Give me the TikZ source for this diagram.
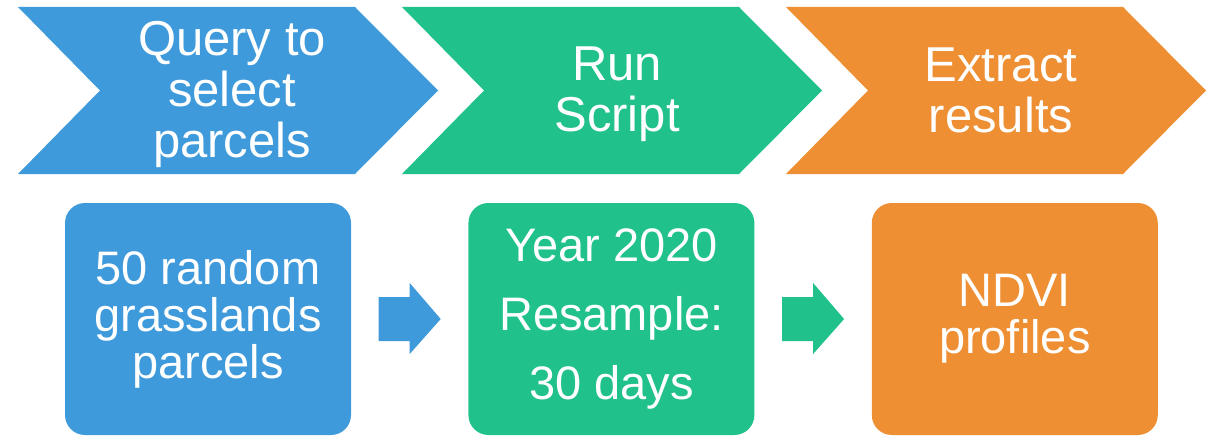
\documentclass[tikz,border=0pt]{standalone}
\usepackage{fontspec}
\setmainfont{Liberation Sans}
\usetikzlibrary{calc,positioning}
\definecolor{stepblue}{RGB}{62,154,219}
\definecolor{stepgreen}{RGB}{32,193,138}
\definecolor{steporange}{RGB}{238,143,51}
\tikzstyle{chevtext}=[text=white,align=center,inner sep=0pt,font=\fontsize{49}{51}\selectfont]
\tikzstyle{stepbox}=[rectangle,rounded corners=20pt,minimum width=286pt,minimum height=232pt,inner sep=0pt,text=white,align=center,font=\fontsize{47}{47}\selectfont]

\begin{document}
\begin{tikzpicture}[x=1pt,y=-1pt]
\useasboundingbox (0,0) rectangle (1210,436);

%chevrons
\fill[stepblue] (18,7) -- (355,7) -- (438,90.5) -- (355,174) -- (18,174) -- (100,90.5) -- cycle;
\fill[stepgreen] (402,7) -- (739,7) -- (822,90.5) -- (739,174) -- (402,174) -- (484,90.5) -- cycle;
\fill[steporange] (786,7) -- (1123,7) -- (1206,90.5) -- (1123,174) -- (786,174) -- (868,90.5) -- cycle;

\node[chevtext] (query) at (232,94){Query to\\select\\parcels};
\node[chevtext] (run) at (617,94){Run\\Script};
\node[chevtext] (extract) at (1001,90){Extract\\results};

%boxes
\node[stepbox,fill=stepblue] (parcels) at (208,319){50 random\\grasslands\\parcels};
\node[stepbox,fill=stepgreen,right=117pt of parcels] (resample){Year 2020\\[22pt]Resample:\\[22pt]30 days};
\node[stepbox,fill=steporange,right=117pt of resample] (ndvi){NDVI\\profiles};

%block arrows
\coordinate (a1) at ($(parcels.east)!0.5!(resample.west)$);
\coordinate (a2) at ($(resample.east)!0.5!(ndvi.west)$);
\fill[stepblue] ($(a1)+(-31,-22)$) -- ++(31,0) -- ++(0,-14) -- ++(31,36) -- ++(-31,35) -- ++(0,-13) -- ++(-31,0) -- cycle;
\fill[stepgreen] ($(a2)+(-31,-22)$) -- ++(31,0) -- ++(0,-14) -- ++(31,36) -- ++(-31,35) -- ++(0,-13) -- ++(-31,0) -- cycle;

\end{tikzpicture}
\end{document}
